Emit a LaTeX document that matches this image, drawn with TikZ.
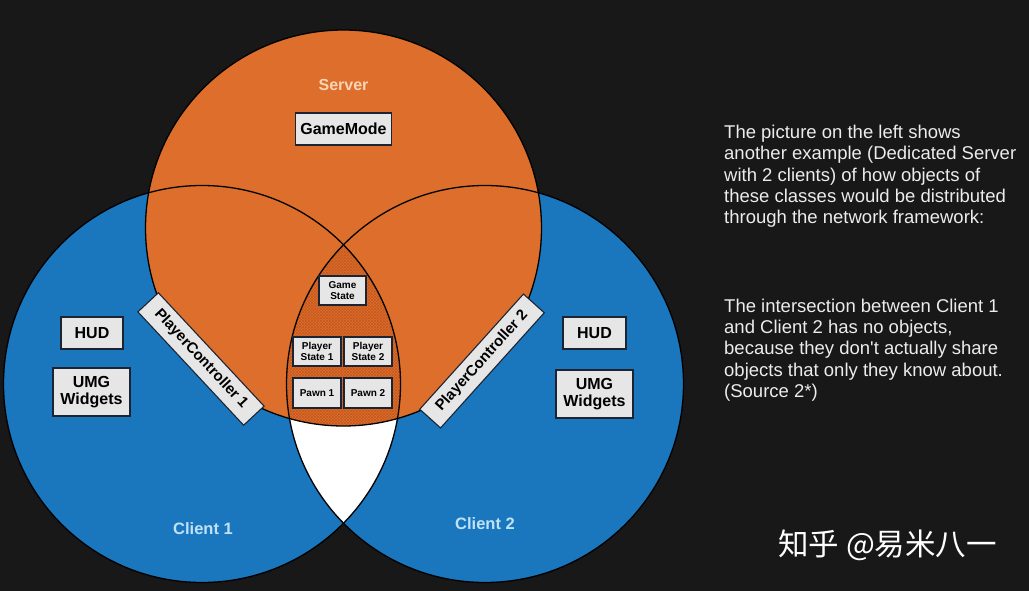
\documentclass[tikz,border=0pt]{standalone}
\usepackage{fontspec}
\setmainfont{Liberation Sans}
\newfontfamily\bodyfont{Liberation Sans}[Ligatures=TeXOff]
\newfontfamily\cjkfont{Noto Sans CJK SC}
\usetikzlibrary{patterns}
\definecolor{bgc}{RGB}{24,24,24}
\definecolor{srvorange}{RGB}{222,110,44}
\definecolor{lensline}{RGB}{196,88,30}
\definecolor{clblue}{RGB}{26,118,189}
\definecolor{boxfill}{RGB}{230,230,230}
\definecolor{boxline}{RGB}{28,36,50}
\definecolor{cltext}{RGB}{192,226,246}
\definecolor{srvtext}{RGB}{250,212,182}
\definecolor{bodytext}{RGB}{236,236,236}
\begin{document}
\begin{tikzpicture}[x=1pt,y=-1pt,
  obj/.style={draw=boxline,line width=1.1pt,fill=boxfill,text=black,align=center,inner sep=0pt},
  bigtxt/.style={font=\bfseries\fontsize{16}{17}\selectfont},
  pctxt/.style={font=\bfseries\fontsize{15}{16}\selectfont},
  smalltxt/.style={font=\bfseries\fontsize{10}{11}\selectfont},
  ring/.style={draw=black,line width=1.3pt},
  para/.style={anchor=north west,align=left,inner sep=0pt,text=bodytext,font=\bodyfont\fontsize{18.5}{21.3}\selectfont}]
\fill[bgc] (0,0) rectangle (1029,591);
\useasboundingbox (0,0) rectangle (1029,591);
\coordinate (s) at (343.5,228);
\coordinate (c1) at (202,384);
\coordinate (c2) at (485,384);
% client fills
\fill[clblue] (c1) circle (198.5pt);
\fill[clblue] (c2) circle (198.5pt);
\begin{scope}
  \clip (c1) circle (198.5pt);
  \fill[white] (c2) circle (198.5pt);
\end{scope}
% server
\fill[srvorange] (s) circle (198pt);
\begin{scope}
  \clip (c1) circle (198.5pt);
  \clip (c2) circle (198.5pt);
  \fill[pattern=crosshatch,pattern color=lensline] (s) circle (198pt);
\end{scope}
% outlines
\draw[ring] (s) circle (198pt);
\draw[ring] (c1) circle (198.5pt);
\draw[ring] (c2) circle (198.5pt);
% labels
\node[text=srvtext,font=\bfseries\fontsize{16}{17}\selectfont] (srvlbl) at (343.5,85) {Server};
\node[text=cltext,font=\bfseries\fontsize{16.5}{17}\selectfont] (c1lbl) at (203,529) {Client 1};
\node[text=cltext,font=\bfseries\fontsize{16.5}{17}\selectfont] (c2lbl) at (485,524) {Client 2};
% boxes
\node[obj,bigtxt,minimum width=96pt,minimum height=32pt] (gm) at (343.5,129) {GameMode};
\node[obj,smalltxt,minimum width=47pt,minimum height=29pt] (gs) at (342.5,290.5) {Game\\State};
\node[obj,smalltxt,minimum width=48pt,minimum height=29pt] (ps1) at (317,351.5) {Player\\State 1};
\node[obj,smalltxt,minimum width=48pt,minimum height=29pt] (ps2) at (368,351.5) {Player\\State 2};
\node[obj,smalltxt,minimum width=48pt,minimum height=30pt] (pw1) at (317,393) {Pawn 1};
\node[obj,smalltxt,minimum width=48pt,minimum height=30pt] (pw2) at (368,393) {Pawn 2};
\node[obj,bigtxt,minimum width=62pt,minimum height=32pt] (hud1) at (92,333) {HUD};
\node[obj,bigtxt,minimum width=77pt,minimum height=48pt] (umg1) at (91.5,392) {UMG\\Widgets};
\node[obj,bigtxt,minimum width=63pt,minimum height=32pt] (hud2) at (594.5,333) {HUD};
\node[obj,bigtxt,minimum width=77pt,minimum height=48pt] (umg2) at (594.5,394) {UMG\\Widgets};
\node[obj,pctxt,minimum width=155pt,minimum height=28pt,rotate=-47] (pc1) at (201,359) {PlayerController 1};
\node[obj,pctxt,minimum width=155pt,minimum height=28pt,rotate=48] (pc2) at (482,361) {PlayerController 2};
% right text
\node[para] (p1) at (724,125) {The picture on the left shows\\another example (Dedicated Server\\with 2 clients) of how objects of\\these classes would be distributed\\through the network framework:};
\node[para] (p2) at (724,298.5) {The intersection between Client 1\\and Client 2 has no objects,\\because they don't actually share\\objects that only they know about.\\(Source 2*)};
\node[anchor=west,inner sep=0pt,text=white,font=\cjkfont\fontsize{30.5}{31}\selectfont] (wm) at (778,545) {知乎 @易米八一};
\end{tikzpicture}
\end{document}
